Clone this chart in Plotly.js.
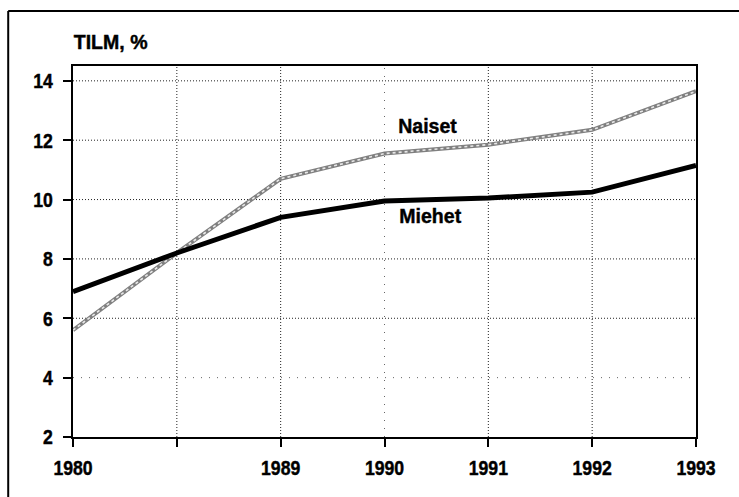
<!DOCTYPE html>
<html>
<head>
<meta charset="utf-8">
<script src="https://cdn.plot.ly/plotly-3.0.1.min.js"></script>
<style>
html,body{margin:0;padding:0;background:#fff;}
#chart{width:739px;height:497px;}
#chart svg text{stroke:#000;stroke-width:0.45px;}
</style>
</head>
<body>
<div id="chart"></div>
<script>
// Data
var xPositions = [0, 1, 2, 3, 4, 5, 6];
var xTickLabels = ['1980', '', '1989', '1990', '1991', '1992', '1993'];
var miehet = [6.9, 8.2, 9.4, 9.95, 10.05, 10.25, 11.15];
var naiset = [5.6, 8.2, 10.7, 11.55, 11.85, 12.35, 13.65];
var yTickVals = [2, 4, 6, 8, 10, 12, 14];
var seriesNames = ['Miehet', 'Naiset'];
var axisTitle = 'TILM, %';
var sparseX = [3];
var sparseY = [4];

var FONT = '"Liberation Sans", Arial, sans-serif';

var traces = [
  {x: xPositions, y: naiset, mode: 'lines', name: seriesNames[1],
   line: {color: '#808080', width: 4}, hoverinfo: 'skip'},
  {x: xPositions, y: naiset, mode: 'lines', name: seriesNames[1] + ' texture',
   line: {color: '#e8e8e8', width: 1.6, dash: 'dot'}, hoverinfo: 'skip'},
  {x: xPositions, y: miehet, mode: 'lines', name: seriesNames[0],
   line: {color: '#000000', width: 5}, hoverinfo: 'skip'}
];

var shapes = [];
xPositions.forEach(function (v) {
  if (v === xPositions[0] || v === xPositions[xPositions.length - 1]) return;
  var sparse = sparseX.indexOf(v) >= 0;
  shapes.push({type: 'line', xref: 'x', yref: 'paper', x0: v, x1: v, y0: 0, y1: 1,
    layer: 'below',
    line: {color: sparse ? '#666' : '#222', width: 1, dash: sparse ? '1px,7px' : '1px,2px'}});
});
yTickVals.forEach(function (v) {
  if (v === yTickVals[0]) return;
  var sparse = sparseY.indexOf(v) >= 0;
  shapes.push({type: 'line', xref: 'paper', yref: 'y', x0: 0, x1: 1, y0: v, y1: v,
    layer: 'below',
    line: {color: sparse ? '#666' : '#222', width: 1, dash: sparse ? '1px,7px' : '1px,2px'}});
});
shapes.push({type: 'line', xref: 'paper', yref: 'paper', x0: -0.104, x1: -0.104, y0: -0.17, y1: 1.148,
  line: {color: '#000', width: 2}});
shapes.push({type: 'line', xref: 'paper', yref: 'paper', x0: -0.104, x1: 1.08, y0: 1.148, y1: 1.148,
  line: {color: '#000', width: 2}});

var tf = {family: FONT, size: 21, color: '#000', weight: 'bold'};

var layout = {
  width: 739, height: 497,
  margin: {l: 73, r: 43, t: 66, b: 60, pad: 0},
  paper_bgcolor: '#fff', plot_bgcolor: '#fff',
  showlegend: false,
  font: tf,
  xaxis: {
    range: [0, 6], tickvals: xPositions, ticktext: xTickLabels,
    showgrid: false, zeroline: false,
    showline: true, linecolor: '#000', linewidth: 2, mirror: true,
    ticks: 'outside', ticklen: 8, tickwidth: 2, tickcolor: '#000',
    ticklabelstandoff: 3, tickfont: tf
  },
  yaxis: {
    range: [2, 14.5], tickvals: yTickVals,
    showgrid: false, zeroline: false,
    showline: true, linecolor: '#000', linewidth: 2, mirror: true,
    ticks: 'outside', ticklen: 8, tickwidth: 2, tickcolor: '#000',
    ticklabelstandoff: 6, tickfont: tf
  },
  shapes: shapes,
  annotations: [
    {text: axisTitle, xref: 'paper', yref: 'paper', x: 0, y: 1.03, xanchor: 'center', yanchor: 'bottom',
     xshift: 38, showarrow: false, font: tf},
    {text: seriesNames[1], xref: 'x', yref: 'y', x: 3.41, y: 12.5, xanchor: 'center', yanchor: 'middle',
     showarrow: false, font: tf},
    {text: seriesNames[0], xref: 'x', yref: 'y', x: 3.44, y: 9.47, xanchor: 'center', yanchor: 'middle',
     showarrow: false, font: tf}
  ]
};

function condense(list, factor) {
  list.forEach(function (el) {
    if (!el.textContent) return;
    var w = el.getComputedTextLength();
    if (w > 0) {
      el.setAttribute('textLength', (w * factor).toFixed(2));
      el.setAttribute('lengthAdjust', 'spacingAndGlyphs');
    }
  });
}

Plotly.newPlot('chart', traces, layout, {staticPlot: true, displayModeBar: false}).then(function (gd) {
  condense(gd.querySelectorAll('g.xtick text, g.ytick text'), 0.84);
  condense(gd.querySelectorAll('g.annotation text'), 0.93);
});
</script>
</body>
</html>
